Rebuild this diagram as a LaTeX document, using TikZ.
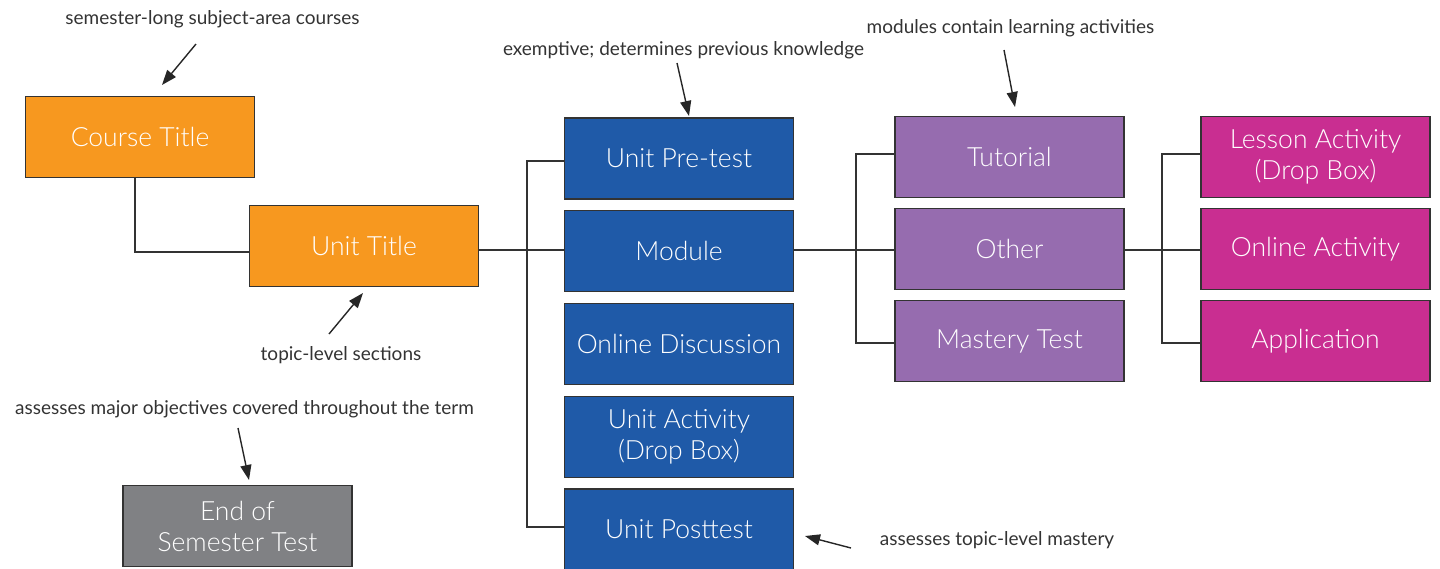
\documentclass[tikz,border=0pt]{standalone}
\usepackage{fontspec}
\setmainfont{Lato}
\newfontfamily\lightfont{Lato Light}
\usetikzlibrary{arrows.meta}
\definecolor{orangebox}{HTML}{F7981F}
\definecolor{bluebox}{HTML}{1F5AA8}
\definecolor{purplebox}{HTML}{966CAF}
\definecolor{magentabox}{HTML}{C92E91}
\definecolor{graybox}{HTML}{808184}
\definecolor{linecol}{HTML}{333333}
\definecolor{notecol}{HTML}{333333}
\tikzset{
  box/.style={draw=linecol, line width=1.5pt, text=white, align=center,
    minimum width=229pt, minimum height=81pt, inner sep=0pt,
    font=\lightfont\fontsize{26.5}{31}\selectfont},
  obox/.style={box, fill=orangebox},
  bbox/.style={box, fill=bluebox},
  pbox/.style={box, fill=purplebox},
  mbox/.style={box, fill=magentabox},
  gbox/.style={box, fill=graybox},
  conn/.style={draw=linecol, line width=1.5pt},
  note/.style={text=notecol, inner sep=0pt, font=\fontsize{19}{22}\selectfont},
  notearrow/.style={draw=black!85, line width=1.4pt, -{Triangle[length=15pt,width=11pt]}}
}
\begin{document}
\begin{tikzpicture}[x=1pt,y=-1pt]
\useasboundingbox (0,0) rectangle (1440,568);
\clip (0,0) rectangle (1440,568);
% boxes
\node[obox] (course) at (140,137) {Course Title};
\node[obox] (unit) at (364,246) {Unit Title};
\node[gbox] (eos) at (237.5,526) {End of\\Semester Test};
\node[bbox] (pretest) at (679,158.5) {Unit Pre-test};
\node[bbox] (module) at (679,251) {Module};
\node[bbox] (discussion) at (679,344) {Online Discussion};
\node[bbox] (uactivity) at (679,437) {Unit Activity\\(Drop Box)};
\node[bbox] (posttest) at (679,529.5) {Unit Posttest};
\node[pbox] (tutorial) at (1009.5,157) {Tutorial};
\node[pbox] (other) at (1009.5,249) {Other};
\node[pbox] (mastery) at (1009.5,341) {Mastery Test};
\node[mbox] (lesson) at (1315.5,157) {Lesson Activity\\(Drop Box)};
\node[mbox] (online) at (1315.5,249) {Online Activity};
\node[mbox] (application) at (1315.5,341) {Application};
% connectors
\coordinate (j1) at (135,252);
\draw[conn] (course.south -| j1) -- (j1) -- (j1 -| unit.west);
\coordinate (u1) at (479,250);
\draw[conn] (u1) -- (u1 -| module.west);
\coordinate (t1) at (527,161);
\coordinate (t2) at (527,527);
\draw[conn] (t1 -| pretest.west) -- (t1) -- (t2) -- (t2 -| posttest.west);
\coordinate (m1) at (794,250);
\draw[conn] (m1) -- (m1 -| other.west);
\coordinate (p1) at (856,154);
\coordinate (p2) at (856,343);
\draw[conn] (p1 -| tutorial.west) -- (p1) -- (p2) -- (p2 -| mastery.west);
\coordinate (o1) at (1124,250);
\draw[conn] (o1) -- (o1 -| online.west);
\coordinate (q1) at (1162,154);
\coordinate (q2) at (1162,343);
\draw[conn] (q1 -| lesson.west) -- (q1) -- (q2) -- (q2 -| application.west);
% annotations
\node[note] (n1) at (212.5,19) {semester-long subject-area courses};
\coordinate (n1s) at (196,44); \coordinate (n1e) at (162,85);
\draw[notearrow] (n1s) -- (n1e);
\node[note] (n2) at (683.5,50) {exemptive; determines previous knowledge};
\coordinate (n2s) at (677,63); \coordinate (n2e) at (689,116);
\draw[notearrow] (n2s) -- (n2e);
\node[note] (n3) at (1010.5,28) {modules contain learning activities};
\coordinate (n3s) at (1004,50); \coordinate (n3e) at (1015,107);
\draw[notearrow] (n3s) -- (n3e);
\node[note] (n4) at (341,355) {topic-level sections};
\coordinate (n4s) at (329,334); \coordinate (n4e) at (363,293);
\draw[notearrow] (n4s) -- (n4e);
\node[note] (n5) at (244.5,409) {assesses major objectives covered throughout the term};
\coordinate (n5s) at (238,428); \coordinate (n5e) at (249,480);
\draw[notearrow] (n5s) -- (n5e);
\node[note] (n6) at (997,540) {assesses topic-level mastery};
\coordinate (n6s) at (851,548); \coordinate (n6e) at (805,536);
\draw[notearrow] (n6s) -- (n6e);
\end{tikzpicture}
\end{document}
